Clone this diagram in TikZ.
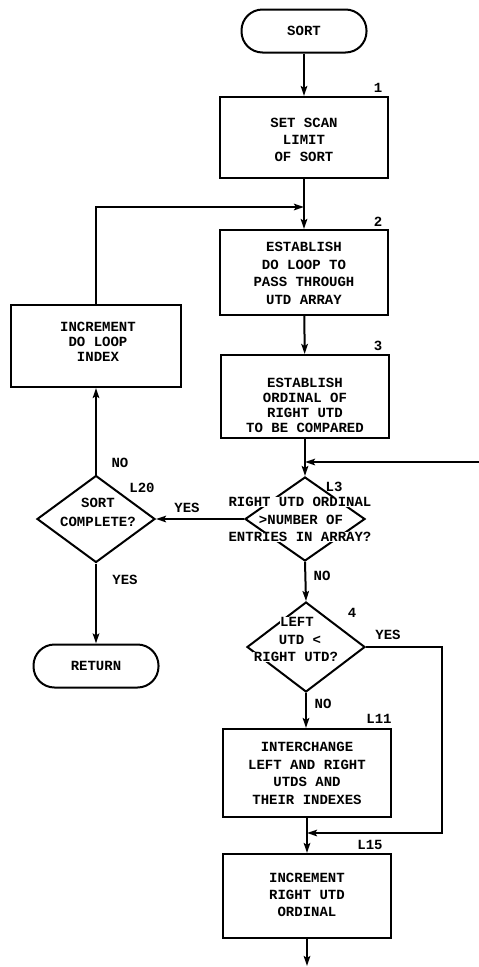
\documentclass[tikz,border=0pt]{standalone}
\usepackage{fontspec}
\setmonofont{Liberation Mono}
\usetikzlibrary{shapes.geometric,arrows.meta}

\tikzset{
  flow/.style={line width=2pt},
  arr/.style={flow, -{Stealth[length=10pt,width=6.5pt,inset=2pt]}},
  procbox/.style={draw, line width=2pt, minimum width=168pt, inner sep=0pt},
  term/.style={draw, line width=2pt, rounded corners=21pt, minimum width=125pt,
    minimum height=43pt, inner sep=0pt, font=\fontsize{14pt}{17pt}\selectfont\ttfamily\bfseries},
  decide/.style={draw, line width=2pt, diamond, inner sep=0pt},
  txt/.style={font=\fontsize{14pt}{17pt}\selectfont\ttfamily\bfseries, align=center, inner sep=0pt},
  linetxt/.style={txt, fill=white, inner sep=0.6pt},
  tag/.style={font=\fontsize{14pt}{17pt}\selectfont\ttfamily\bfseries, inner sep=0pt},
}

\begin{document}
\begin{tikzpicture}[x=1pt,y=-1pt]
\useasboundingbox (0,0) rectangle (479,967);
\fill[white] (0,0) rectangle (479,967);

% main column
\node[term] (sort) at (304,31) {SORT};
\node[procbox, minimum height=81pt] (b1) at (304,137.5) {};
\node[txt] (b1t) at (304,140) {SET SCAN\\LIMIT\\OF SORT};
\node[tag] (n1) at (378,88) {1};

\node[procbox, minimum height=85pt] (b2) at (304,272.5) {};
\node[txt, font=\fontsize{14pt}{17.6pt}\selectfont\ttfamily\bfseries] (b2t) at (304,273.5)
  {ESTABLISH\\DO LOOP TO\\PASS THROUGH\\UTD ARRAY};
\node[tag] (n2) at (378,222) {2};

\node[procbox, minimum height=83pt] (b3) at (305,396.5) {};
\node[txt, font=\fontsize{14pt}{15pt}\selectfont\ttfamily\bfseries] (b3t) at (305,405.5)
  {ESTABLISH\\ORDINAL OF\\RIGHT UTD\\TO BE COMPARED};
\node[tag] (n3) at (378,346) {3};

% decision L3
\node[decide, minimum width=120pt, minimum height=84pt] (d3) at (305,519) {};
\node[linetxt] (d3a) at (300,502) {RIGHT UTD ORDINAL};
\node[linetxt] (d3b) at (301,520) {>NUMBER OF};
\node[linetxt] (d3c) at (300,537) {ENTRIES IN ARRAY?};
\node[tag] (nL3) at (334,487) {L3};

% decision 4
\node[decide, minimum width=118pt, minimum height=90pt] (d4) at (306,647) {};
\node[linetxt] (d4a) at (297,622) {LEFT};
\node[linetxt] (d4b) at (300,640) {UTD <};
\node[linetxt] (d4c) at (296,657) {RIGHT UTD?};
\node[tag] (n4) at (352,613) {4};

\node[procbox, minimum height=88pt] (b11) at (307,773) {};
\node[txt, font=\fontsize{14pt}{17.7pt}\selectfont\ttfamily\bfseries] (b11t) at (307,773.5)
  {INTERCHANGE\\LEFT AND RIGHT\\UTDS AND\\THEIR INDEXES};
\node[tag] (nL11) at (379,719) {L11};

\node[procbox, minimum height=84pt] (b15) at (307,896) {};
\node[txt] (b15t) at (307,895) {INCREMENT\\RIGHT UTD\\ORDINAL};
\node[tag] (nL15) at (370,845) {L15};

% left column
\node[procbox, minimum width=170pt, minimum height=82pt] (incr) at (96,346) {};
\node[txt, font=\fontsize{14pt}{15pt}\selectfont\ttfamily\bfseries] (incrt) at (98,342)
  {INCREMENT\\DO LOOP\\INDEX};

\node[decide, minimum width=118pt, minimum height=87pt] (d20) at (96,519) {};
\node[txt, font=\fontsize{14pt}{19pt}\selectfont\ttfamily\bfseries] (d20t) at (98,512.5)
  {SORT\\COMPLETE?};
\node[tag] (nL20) at (142,488) {L20};

\node[term] (ret) at (96,666) {RETURN};

% branch labels
\node[tag] (yes20in) at (187,508) {YES};
\node[tag] (no20) at (120,463) {NO};
\node[tag] (yes20) at (125,580) {YES};
\node[tag] (no3) at (322,576) {NO};
\node[tag] (yes4) at (388,635) {YES};
\node[tag] (no4) at (323,704) {NO};

% junction points and free ends
\coordinate (m1) at (304,207);
\coordinate (m3) at (305,462);
\coordinate (inR) at (479,462);
\coordinate (c4) at (442,833);
\coordinate (m4) at (307,833);
\coordinate (out) at (307,966);

% connectors
\draw[arr] (sort) -- (b1);
\draw[arr] (b1) -- (b2);
\draw[arr] (incr.north) |- (m1);
\draw[arr] (b2) -- (b3);
\draw[arr] (b3) -- (d3);
\draw[arr] (inR) -- (m3);
\draw[arr] (d3.west) -- (d20.east);
\draw[arr] (d20.north) -- (incr.south);
\draw[arr] (d20.south) -- (ret.north);
\draw[arr] (d3.south) -- (d4.north);
\draw[arr] (d4.south) -- (d4.south |- b11.north);
\draw[arr] (d4.east) -| (c4) -- (m4);
\draw[arr] (b11) -- (b15);
\draw[arr] (b15) -- (out);
\end{tikzpicture}
\end{document}
